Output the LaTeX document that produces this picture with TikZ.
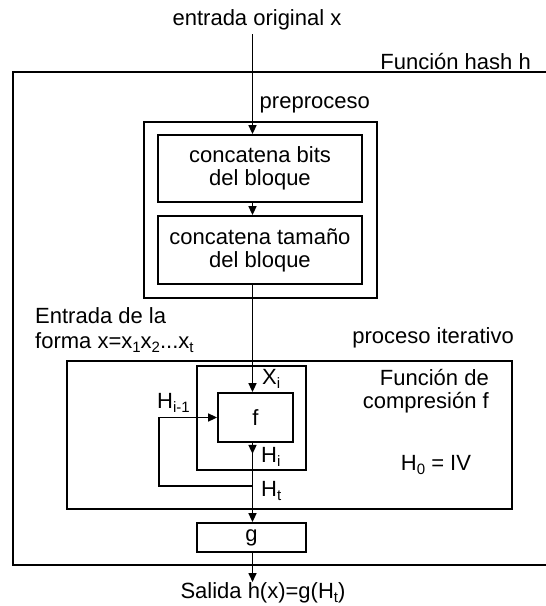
\documentclass[tikz,border=0pt]{standalone}
\usepackage{fontspec}
\setmainfont{Liberation Sans}
\usetikzlibrary{arrows.meta}
\newcommand\sbs[1]{\raisebox{-0.4ex}{\fontsize{15}{15}\selectfont #1}}
\begin{document}
\begin{tikzpicture}[x=1pt,y=-1pt,
  txt/.style={font=\fontsize{22}{23}\selectfont, inner sep=0pt},
  frame/.style={draw, line width=1.8pt, inner sep=0pt, font=\fontsize{22}{23}\selectfont, align=center},
  ln/.style={line width=1.8pt},
  arr/.style={line width=1.6pt, -{Triangle[length=9pt,width=8pt]}}]
\useasboundingbox (0,0) rectangle (546,606);
% outer frame (open on the right)
\draw[ln] (547,72) -- (13,72) -- (13,565) -- (547,565);
% boxes
\node[frame, minimum width=233pt, minimum height=176pt] (pre) at (260.5,210) {};
\node[frame, minimum width=204pt, minimum height=67pt] (b1) at (260,168.5) {concatena bits\\del bloque};
\node[frame, minimum width=204pt, minimum height=68pt] (b2) at (260,250) {concatena tamaño\\del bloque};
\node[frame, minimum width=445pt, minimum height=148pt] (proc) at (289.5,435) {};
\node[frame, minimum width=109pt, minimum height=104pt] (wrap) at (251.5,418) {};
\node[frame, minimum width=75pt, minimum height=49pt] (f) at (255.5,417.5) {f};
\node[frame, minimum width=109pt, minimum height=29pt] (g) at (251.5,537.5) {g};
% labels
\node[txt] (tin) at (257,20) {entrada original x};
\node[txt, anchor=east] (thash) at (531,62) {Función hash h};
\node[txt, anchor=east] (tpre) at (370,105) {preproceso};
\node[txt, align=left, anchor=west] (tent) at (35,330) {Entrada de la\\[2pt]forma x=x\sbs{1}x\sbs{2}...x\sbs{t}};
\node[txt, anchor=east] (tproc) at (514,338) {proceso iterativo};
\node[txt, align=right, anchor=east] (tcomp) at (489,391) {Función de\\compresión f};
\node[txt] (th0) at (436,465) {H\sbs{0} = IV};
\node[txt, anchor=west] (txi) at (262,379) {X\sbs{i}};
\node[txt, anchor=west] (thi) at (261,457) {H\sbs{i}};
\node[txt, anchor=west] (tht) at (261,491) {H\sbs{t}};
\node[txt, anchor=west] (thi1) at (157,403) {H\sbs{i-1}};
\node[txt, anchor=north] (tout) at (263,582) {Salida h(x)=g(H\sbs{t})};
% connectors
\coordinate (m) at (252.5,34);
\coordinate (fb) at (252.5,486);
\coordinate (fbc) at (159,486);
\draw[arr] (m) -- (m |- b1.north);
\draw[arr] (m |- b1.south) -- (m |- b2.north);
\draw[arr] (m |- b2.south) -- (m |- f.north);
\draw[arr] (m |- f.south) -- ++(0,11);
\draw[arr] (m |- f.south) -- (m |- g.north);
\draw[arr] (fb) -- (fbc) |- (f.west);
\draw[arr] (m |- g.south) -- (m |- tout.north);
\end{tikzpicture}
\end{document}
